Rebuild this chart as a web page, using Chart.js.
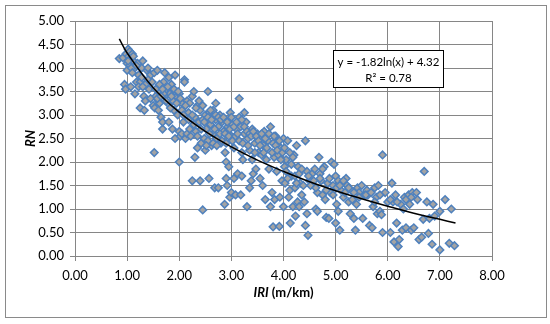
<!DOCTYPE html>
<html>
<head>
<meta charset="utf-8">
<script src="https://cdn.jsdelivr.net/npm/chart.js@4.4.1/dist/chart.umd.min.js"></script>
<style>
  html, body { margin: 0; padding: 0; background: #fff; }
  #wrap { width: 550px; height: 324px; position: relative; }
</style>
</head>
<body>
<div id="wrap"><canvas id="rnChart"></canvas></div>
<script>
// IRI (m/km) vs RN
const iriValues = [
  0.85,0.92,0.95,0.97,0.98,1.00,1.02,1.03,1.05,1.05,1.07,1.08,1.10,1.12,1.15,1.15,1.18,1.20,1.22,1.25,
  1.25,1.28,1.30,1.32,1.33,1.35,1.35,1.38,1.40,1.42,1.45,1.50,1.52,1.53,1.55,1.52,1.58,1.60,1.60,1.62,
  1.65,1.65,1.68,1.68,1.70,1.72,1.73,1.75,1.78,1.80,1.80,1.82,1.85,1.87,1.88,1.90,1.92,1.92,1.95,1.97,
  2.00,2.00,2.00,2.02,2.05,2.05,2.08,2.10,2.10,2.12,2.15,2.15,2.18,2.20,2.22,2.25,2.25,2.28,2.30,2.30,
  2.32,2.35,2.35,2.38,2.40,2.40,2.42,2.45,2.45,2.48,2.50,2.50,2.52,2.55,2.55,2.57,2.58,2.60,2.62,2.65,
  2.65,2.68,2.70,2.70,2.72,2.75,2.75,2.78,2.80,2.82,2.85,2.87,2.88,2.90,2.90,2.92,2.93,2.95,2.97,2.98,
  3.00,3.00,3.02,3.05,3.05,3.08,3.10,3.12,3.15,3.15,3.18,3.20,3.20,3.22,3.25,3.25,3.28,3.30,3.32,3.35,
  3.35,3.38,3.40,3.40,3.42,3.45,3.47,3.50,3.52,3.55,3.57,3.58,3.60,3.62,3.63,3.65,3.67,3.70,3.72,3.75,
  3.75,3.78,3.80,3.80,3.82,3.83,3.85,3.87,3.90,3.92,3.93,3.95,3.97,4.00,4.00,4.02,4.03,4.05,4.08,4.10,
  4.12,4.13,4.15,4.18,4.20,4.22,4.23,4.25,4.27,4.28,4.30,4.32,4.35,4.40,4.42,4.42,4.45,4.45,4.47,4.50,
  4.55,4.60,4.62,4.65,4.65,4.68,4.70,4.72,4.75,4.78,4.80,4.82,4.85,4.87,4.90,4.92,4.95,4.97,5.00,5.00,
  5.02,5.05,5.05,5.08,5.10,5.12,5.15,5.20,5.22,5.25,5.28,5.30,5.32,5.35,5.38,5.40,5.42,5.45,5.50,5.52,
  5.55,5.60,5.62,5.65,5.70,5.72,5.75,5.78,5.80,5.82,5.85,5.88,5.90,5.90,5.95,6.00,6.05,6.08,6.10,6.12,
  6.15,6.17,6.20,6.22,6.25,6.28,6.30,6.32,6.35,6.40,6.42,6.45,6.47,6.50,6.55,6.57,6.60,6.65,6.68,6.70,
  6.75,6.78,6.80,6.85,6.87,6.90,7.00,7.00,7.10,7.18,7.22,7.28,
  1.55,1.62,1.70,1.75,1.78,1.83,1.85,1.90,1.95,1.98,2.02,2.05,2.08,2.12,2.18,2.20,2.25,2.28,2.32,2.35,
  2.38,2.42,2.45,2.48,2.52,2.55,2.58,2.60,2.62,2.65,2.68,2.70,2.72,2.75,2.78,2.80,2.82,2.85,2.88,2.90,
  2.92,2.95,2.97,3.00,3.02,3.05,3.08,3.10,3.12,3.15,3.18,3.20,3.22,3.25,3.30,3.32,3.35,3.38,3.42,3.45,
  3.48,3.52,3.55,3.58,3.62,3.65,3.68,3.72,3.78,3.82,3.85,3.88,3.92,3.95,3.98,4.02,4.05,4.08,4.12,4.15,
  4.18,4.22,4.25,4.30,4.35,4.38,4.48,4.52,4.58,4.62,4.70,4.75,4.82,4.88,4.95,5.02,5.08,5.15,5.18,5.25,
  5.35,5.45,5.58,5.68,5.75,5.85,6.05,6.18,6.35,6.45,
  1.00,1.02,1.08,1.10,1.12,1.18,1.22,1.28,1.30,1.40,1.45,1.48,1.58,1.60,1.65,1.68
];
const rnValues = [
  4.20,4.22,3.65,3.55,4.30,4.10,4.40,4.25,4.35,4.05,3.60,4.20,4.30,4.15,3.45,4.00,3.70,4.10,3.85,3.15,
  3.70,4.00,4.15,3.40,3.10,3.30,3.65,3.95,4.00,3.55,3.85,3.20,3.90,3.15,3.40,2.20,3.95,3.50,3.30,3.25,
  3.60,2.95,2.70,2.85,3.70,3.90,3.40,3.55,3.25,3.80,2.85,3.45,3.65,2.70,3.30,3.10,3.85,2.50,3.40,3.00,
  2.65,3.45,2.00,2.55,3.25,2.60,2.85,3.75,3.70,2.50,3.30,2.60,3.05,3.25,2.55,3.40,1.60,3.50,2.95,2.10,
  2.65,3.20,2.30,2.85,3.10,1.60,2.40,2.90,0.98,2.50,3.00,2.25,2.70,3.50,2.45,1.65,3.05,2.80,2.35,3.10,
  2.60,1.45,3.25,2.90,2.50,1.45,2.75,3.00,2.40,2.85,2.65,1.10,2.20,2.00,1.65,1.50,2.75,1.90,1.25,3.05,
  1.35,2.55,2.80,1.65,2.30,1.30,2.70,1.75,3.35,2.95,1.30,2.20,1.70,2.05,3.05,2.60,2.85,1.05,2.50,1.45,
  2.25,1.60,2.70,2.05,1.75,2.40,1.85,2.60,2.20,1.65,2.50,2.15,1.50,2.35,2.65,1.20,2.05,2.45,1.85,2.75,
  1.05,1.35,2.40,0.62,2.10,1.20,2.55,1.80,2.15,0.63,1.25,2.30,1.60,2.50,1.05,1.90,1.55,2.05,2.45,1.25,
  1.40,0.70,1.70,1.05,2.15,1.45,0.85,2.35,1.15,1.90,1.05,1.55,1.30,1.15,0.65,2.45,1.80,0.90,0.44,1.60,
  1.75,1.85,1.00,1.35,0.95,2.10,1.75,1.60,1.30,1.90,1.20,0.82,1.55,0.80,1.35,2.00,1.50,1.95,1.70,0.70,
  1.10,0.95,1.60,0.55,1.40,1.55,1.25,1.65,1.50,1.15,0.90,1.40,1.20,0.80,0.55,1.10,1.45,1.35,1.50,0.80,
  1.30,1.40,1.30,0.65,0.60,1.05,1.45,1.25,0.90,1.50,0.95,0.88,2.15,0.50,1.35,1.15,0.50,1.55,1.15,0.30,
  1.30,0.70,0.20,0.35,1.10,0.55,1.00,1.25,0.60,1.30,1.10,0.55,1.35,0.60,1.35,1.20,0.35,0.40,0.78,1.80,
  1.15,0.48,0.80,0.25,1.10,0.85,0.95,0.13,1.20,0.27,1.00,0.22,
  3.55,3.65,3.45,3.30,3.60,3.15,3.40,3.55,3.25,3.50,3.35,3.10,3.00,3.20,2.90,2.70,3.00,2.80,3.15,2.55,
  3.30,2.70,3.20,2.85,2.35,2.95,2.60,3.10,2.90,2.40,2.70,3.00,2.35,2.95,2.60,2.90,2.45,2.95,2.60,2.40,
  2.85,2.55,2.70,2.95,2.45,2.75,2.55,2.85,2.60,2.45,2.75,2.90,2.40,2.75,2.65,2.35,2.60,2.55,2.65,2.20,
  2.55,2.45,2.35,2.60,2.20,2.50,2.30,2.60,2.20,2.55,2.35,2.25,2.45,2.05,2.20,2.30,1.80,1.65,2.20,1.95,
  2.10,1.70,1.55,1.75,1.85,1.50,1.70,1.50,1.60,1.45,1.65,1.85,1.40,1.65,1.30,1.45,1.50,1.60,1.35,1.45,
  1.35,1.25,1.30,1.35,1.15,1.30,1.20,1.15,1.20,1.25,
  3.95,4.15,4.00,3.90,4.25,4.05,3.60,3.80,3.60,3.75,3.35,3.70,3.35,3.10,3.40,3.55
];

// trendline as drawn (logarithmic fit)
const trendX = [0.85, 1.0, 1.5, 2.0, 2.5, 3.0, 3.5, 4.0, 4.5, 5.0, 5.5, 6.0, 6.5, 7.0, 7.3];
const trendY = [4.62, 4.32, 3.58, 3.06, 2.65, 2.32, 2.04, 1.80, 1.58, 1.39, 1.22, 1.06, 0.91, 0.78, 0.70];

const xTicks = [0, 1, 2, 3, 4, 5, 6, 7, 8];
const yTicks = [0, 0.5, 1, 1.5, 2, 2.5, 3, 3.5, 4, 4.5, 5];
const eqLines = ['y = -1.82ln(x) + 4.32', 'R\u00B2 = 0.78'];

const FONT = 'Lato, "Liberation Sans", sans-serif';
const gridColor = '#868686';

const points = iriValues.map((x, i) => ({ x: x, y: rnValues[i] }));
const trend = trendX.map((x, i) => ({ x: x, y: trendY[i] }));

// outer frame, x title (mixed italic) and equation box
const extras = {
    id: 'extras',
    afterDraw(chart) {
        const ctx = chart.ctx;
        const xs = chart.scales.x, ys = chart.scales.y;
        ctx.save();
        ctx.strokeStyle = '#8a8a8a';
        ctx.lineWidth = 1;
        ctx.strokeRect(5.5, 5.5, 541, 312);

        // x axis title: "IRI" italic bold, " (m/km)" bold
        const partA = 'IRI', partB = ' (m/km)';
        ctx.fillStyle = '#000';
        ctx.textBaseline = 'middle';
        ctx.textAlign = 'left';
        ctx.font = 'italic bold 13px ' + FONT;
        const wA = ctx.measureText(partA).width;
        ctx.font = 'bold 13px ' + FONT;
        const wB = ctx.measureText(partB).width;
        const mid = (chart.chartArea.left + chart.chartArea.right) / 2;
        const tx = mid - (wA + wB) / 2;
        const ty = chart.chartArea.bottom + 37;
        ctx.font = 'italic bold 13px ' + FONT;
        ctx.fillText(partA, tx, ty);
        ctx.font = 'bold 13px ' + FONT;
        ctx.fillText(partB, tx + wA, ty);

        // equation label box
        const left = Math.round(xs.getPixelForValue(4.95)) + 0.5;
        const right = Math.round(xs.getPixelForValue(7.06)) + 0.5;
        const top = Math.round(ys.getPixelForValue(4.39)) + 0.5;
        const bottom = Math.round(ys.getPixelForValue(3.59)) + 0.5;
        ctx.fillStyle = '#fff';
        ctx.fillRect(left, top, right - left, bottom - top);
        ctx.strokeStyle = '#000';
        ctx.lineWidth = 1;
        ctx.strokeRect(left, top, right - left, bottom - top);
        ctx.fillStyle = '#000';
        ctx.font = '11.5px ' + FONT;
        ctx.textAlign = 'center';
        ctx.textBaseline = 'middle';
        const cx = (left + right) / 2;
        ctx.fillText(eqLines[0], cx, top + 12);
        ctx.fillText(eqLines[1], cx, top + 28);
        ctx.restore();
    }
};

new Chart(document.getElementById('rnChart').getContext('2d'), {
    type: 'scatter',
    data: {
        datasets: [
            {
                label: 'trend',
                data: trend,
                showLine: true,
                borderColor: '#000',
                borderWidth: 1.5,
                pointRadius: 0,
                tension: 0.4,
                order: 0
            },
            {
                label: 'RN',
                data: points,
                pointStyle: 'rectRot',
                pointRadius: 3.8,
                backgroundColor: '#a3a3a3',
                borderColor: '#4f81bd',
                borderWidth: 1.5,
                order: 1
            }
        ]
    },
    options: {
        responsive: true,
        maintainAspectRatio: false,
        animation: false,
        layout: {
            padding: { left: 23, right: 58, top: 21, bottom: 12 }
        },
        plugins: {
            legend: { display: false },
            tooltip: { enabled: false }
        },
        scales: {
            x: {
                type: 'linear',
                min: 0,
                max: 8,
                afterBuildTicks: (axis) => { axis.ticks = xTicks.map(v => ({ value: v })); },
                afterFit: (axis) => { axis.height = 56; },
                ticks: {
                    color: '#000',
                    font: { family: FONT, size: 13 },
                    padding: 7,
                    maxRotation: 0,
                    callback: (v) => Number(v).toFixed(2)
                },
                grid: { color: gridColor, tickLength: 5, tickColor: gridColor },
                border: { color: gridColor },
                title: { display: false }
            },
            y: {
                type: 'linear',
                min: 0,
                max: 5,
                afterBuildTicks: (axis) => { axis.ticks = yTicks.map(v => ({ value: v })); },
                afterFit: (axis) => { axis.width = 52; },
                ticks: {
                    color: '#000',
                    font: { family: FONT, size: 13 },
                    padding: 6,
                    callback: (v) => Number(v).toFixed(2)
                },
                grid: { color: gridColor, tickLength: 5, tickColor: gridColor },
                border: { color: gridColor },
                title: {
                    display: true,
                    text: 'RN',
                    color: '#000',
                    font: { family: FONT, size: 13, weight: 'bold', style: 'italic' },
                    padding: { top: 0, bottom: 0 }
                }
            }
        }
    },
    plugins: [extras]
});
</script>
</body>
</html>
